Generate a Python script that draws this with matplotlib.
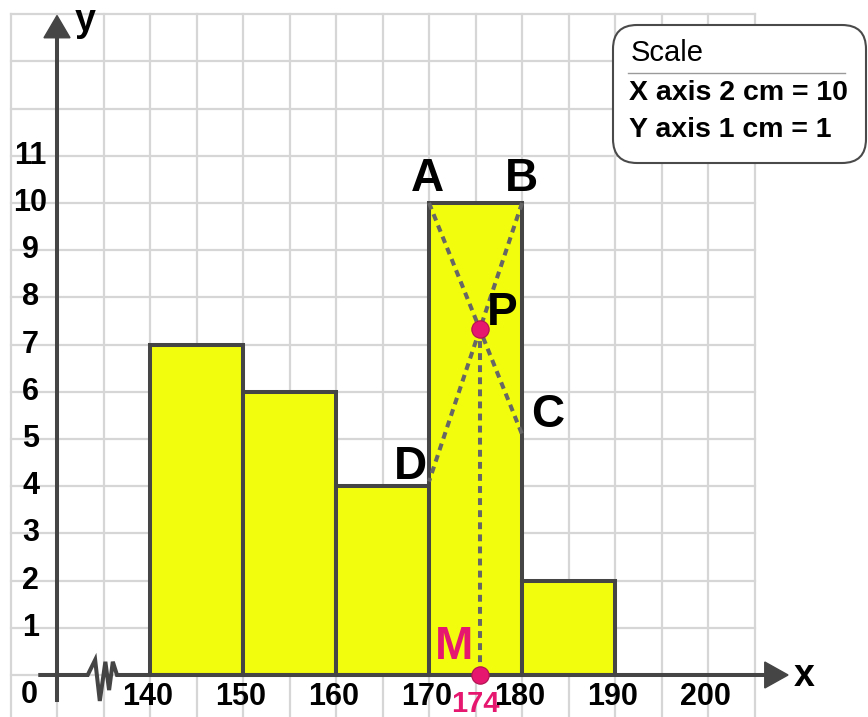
import matplotlib.pyplot as plt
import numpy as np
from matplotlib.patches import FancyBboxPatch
from matplotlib.lines import Line2D
from matplotlib.transforms import IdentityTransform

plt.rcParams['font.family'] = ['Liberation Sans', 'DejaVu Sans']

# histogram data
class_lower = [140, 150, 160, 170, 180]
frequency = [7, 6, 4, 10, 2]
class_width = 10
x_ticks = [140, 150, 160, 170, 180, 190, 200]
y_ticks = [1, 2, 3, 4, 5, 6, 7, 8, 9, 10, 11]
mode_label = "174"

# construction points for the mode (as drawn)
A = (170, 10)
B = (180, 10)
C = (180, 5.1)
D = (170, 4.1)

# axis break zigzag
brk_x = [133.3, 134.1, 134.6, 135.2, 135.6, 136.0, 136.45]
brk_y = [0, 0.32, -0.55, 0.28, -0.32, 0.28, 0]

axis_col = '#454545'
bar_col = '#f2fd0e'
pink = '#e5176f'
dash_col = '#666666'

fig = plt.figure(figsize=(8.68, 7.17), dpi=100)
ax = fig.add_axes([0, 0, 1, 1])
ax.set_xlim(123.87, 217.2)
ax.set_ylim(-0.89, 14.30)
ax.axis('off')

# grid paper
for gx in range(125, 206, 5):
    ax.plot([gx, gx], [-0.89, 14], color='#d6d6d6', lw=1.6, zorder=0)
for gy in range(0, 15):
    ax.plot([125, 205], [gy, gy], color='#d6d6d6', lw=1.6, zorder=0)

# bars
ax.bar(class_lower, frequency, width=class_width, align='edge',
       color=bar_col, edgecolor=axis_col, lw=2.9, zorder=3)

# axes with arrows
ax.plot([130, 130], [-0.53, 13.5], color=axis_col, lw=2.9, zorder=4)
ax.fill([128.6, 130, 131.4], [13.5, 13.97, 13.5], color=axis_col, zorder=4)
xs = [128.2] + brk_x + [206.1]
ys = [0] + brk_y + [0]
ax.plot(xs, ys, color=axis_col, lw=2.9, zorder=4, solid_joinstyle='miter')
ax.fill([206.1, 208.6, 206.1], [0.275, 0, -0.275], color=axis_col, zorder=4)

ax.text(133.0, 13.85, 'y', fontsize=27, weight='bold', ha='center', va='center')
ax.text(210.3, -0.02, 'x', fontsize=27, weight='bold', ha='center', va='center')

# tick labels
for v in y_ticks:
    ax.text(127.15, v, str(v), fontsize=22, weight='bold', ha='center', va='center')
ax.text(127.0, -0.42, '0', fontsize=22, weight='bold', ha='center', va='center')
for v in x_ticks:
    ax.text(v - 0.3, -0.47, str(v), fontsize=22, weight='bold', ha='center', va='center')

# construction lines
def intersect(p1, p2, p3, p4):
    m1 = (p2[1] - p1[1]) / (p2[0] - p1[0])
    m2 = (p4[1] - p3[1]) / (p4[0] - p3[0])
    x = (p3[1] - p1[1] + m1 * p1[0] - m2 * p3[0]) / (m1 - m2)
    return x, p1[1] + m1 * (x - p1[0])

px, py = intersect(A, C, B, D)
dash_kw = dict(color=dash_col, lw=2.9, dashes=(1.7, 1.3), zorder=5)
ax.plot([A[0], C[0]], [A[1], C[1]], **dash_kw)
ax.plot([B[0], D[0]], [B[1], D[1]], **dash_kw)
ax.plot([px, px], [py, 0], **dash_kw)
ax.plot([px, px], [py, 0], 'o', color=pink, ms=12.5, mec='#b0104f', mew=0.8, zorder=6)

lab_kw = dict(fontsize=33, weight='bold', ha='center', va='center', zorder=7)
ax.text(A[0] - 0.2, A[1] + 0.5, 'A', **lab_kw)
ax.text(B[0] - 0.1, B[1] + 0.5, 'B', **lab_kw)
ax.text(C[0] + 2.7, C[1] + 0.4, 'C', **lab_kw)
ax.text(D[0] - 2.0, D[1] + 0.3, 'D', **lab_kw)
ax.text(px + 2.4, py + 0.35, 'P', **lab_kw)
ax.text(px - 2.75, 0.6, 'M', fontsize=33, weight='bold', ha='center', va='center',
        color=pink, zorder=7)
ax.text(px - 0.45, -0.62, mode_label, fontsize=21, weight='bold', ha='center',
        va='center', color=pink, zorder=7)

# scale box (pixel coordinates)
box = FancyBboxPatch((613, 554), 253, 138, boxstyle='round,pad=0,rounding_size=24',
                     transform=IdentityTransform(), facecolor='white',
                     edgecolor='#4a4a4a', lw=1.5, zorder=8)
ax.add_patch(box)
ax.text(631, 664, 'Scale', fontsize=21, ha='left', va='center',
        transform=IdentityTransform(), zorder=9)
ax.add_line(Line2D([628, 845], [644, 644], color='#9a9a9a', lw=1,
                   transform=IdentityTransform(), zorder=9))
ax.text(629, 624, 'X axis 2 cm = 10', fontsize=20.5, weight='bold', ha='left', va='center',
        transform=IdentityTransform(), zorder=9)
ax.text(629, 587, 'Y axis 1 cm = 1', fontsize=20.5, weight='bold', ha='left', va='center',
        transform=IdentityTransform(), zorder=9)

fig.savefig('out.png', dpi=100)
